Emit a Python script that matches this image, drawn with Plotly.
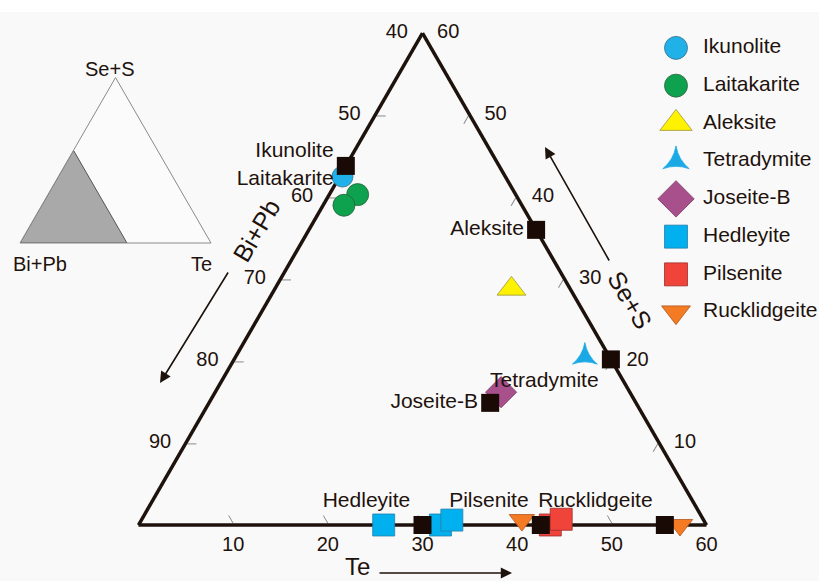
import plotly.graph_objects as go

W, H = 819, 581
FONT = "Liberation Sans, Arial, sans-serif"
INK = "#1e120d"
NBSP = "\u00a0"

# Lower limit of Bi+Pb in the main diagram (a=Se+S, b=Bi+Pb, c=Te)
BI_PB_MIN = 40
# Shaded field in the overview triangle
INSET_BI_PB_MIN = 44

# Tick labels along each edge
bi_pb_ticks = [40, 50, 60, 70, 80, 90]
te_ticks = [10, 20, 30, 40, 50, 60]
se_s_ticks = [10, 20, 30, 40, 50, 60]

# Mineral groups
minerals = ["Ikunolite", "Laitakarite", "Aleksite", "Tetradymite",
            "Joseite-B", "Hedleyite", "Pilsenite", "Rucklidgeite"]
colors = ["#1fb1e8", "#0ea24f", "#fff200", "#1aa9e4",
          "#a8508c", "#00b0ef", "#f0433a", "#f47a24"]
edge_colors = ["#3a6f88", "#2f5e3f", "#9a9340", "#1aa9e4",
               "#7a3a65", "#2a7fa8", "#9a3030", "#b0561c"]
symbols = ["circle", "circle", "triangle-up", "star-triangle-up",
           "diamond", "square", "square", "triangle-down"]
plot_sizes = [21, 22, 25, 18, 24, 22, 22, 22]
legend_sizes = [23, 23, 28, 19, 28, 23, 23, 25]

# Measured analyses (at.%)
ana_mineral = ["Ikunolite", "Laitakarite", "Laitakarite", "Aleksite",
               "Tetradymite", "Joseite-B", "Hedleyite", "Hedleyite",
               "Hedleyite", "Pilsenite", "Pilsenite", "Rucklidgeite",
               "Rucklidgeite"]
ana_se_s = [42.5, 40.3, 39.0, 28.8, 20.5, 16.2, 0.0, 0.0, 0.6, 0.0, 0.7, 0.6, 0.0]
ana_te = [0.3, 3.0, 2.2, 25.0, 36.9, 30.2, 25.9, 31.9, 32.8, 43.5, 44.3, 40.2, 57.2]
ana_bi_pb = [57.2, 56.7, 58.8, 46.2, 42.6, 53.6, 74.1, 68.1, 66.6, 56.5, 55.0, 59.2, 42.8]

# Ideal compositions
ideal_label = ["Ikunolite<br>Laitakarite", "Aleksite", "Tetradymite",
               "Joseite-B", "Hedleyite", "Pilsenite", "Rucklidgeite"]
ideal_se_s = [43.8, 36.0, 20.2, 14.9, 0.0, 0.0, 0.0]
ideal_te = [0.0, 24.0, 39.8, 29.7, 30.0, 42.5, 55.6]
ideal_bi_pb = [56.2, 40.0, 40.0, 55.4, 70.0, 57.5, 44.4]
ideal_textpos = ["middle left", "middle left", "bottom left", "middle left",
                 "top left", "top left", "top left"]


def px(x, y):
    """Pixel position -> paper coordinates."""
    return x / W, 1 - y / H


def tern_domain(left, right, bottom):
    h = (right - left) * 3 ** 0.5 / 2
    return dict(x=[left / W, right / W], y=[1 - bottom / H, 1 - (bottom - h) / H])


fig = go.Figure()

# Measured points, one trace per mineral
for i, m in enumerate(minerals):
    idx = [k for k, name in enumerate(ana_mineral) if name == m]
    fig.add_trace(go.Scatterternary(
        a=[ana_se_s[k] for k in idx],
        b=[ana_bi_pb[k] for k in idx],
        c=[ana_te[k] for k in idx],
        mode="markers", name=m, showlegend=False, cliponaxis=False,
        marker=dict(symbol=symbols[i], size=plot_sizes[i], color=colors[i],
                    line=dict(color=edge_colors[i], width=0.8)),
        subplot="ternary"))

# Ideal compositions as black squares with names
fig.add_trace(go.Scatterternary(
    a=ideal_se_s, b=ideal_bi_pb, c=ideal_te,
    mode="markers+text", text=ideal_label, textposition=ideal_textpos,
    textfont=dict(family=FONT, size=21, color=INK),
    marker=dict(symbol="square", size=18, color="#1a0a06"),
    showlegend=False, cliponaxis=False, subplot="ternary"))

# Overview triangle with the shaded field
fig.add_trace(go.Scatterternary(
    a=[0, 100 - INSET_BI_PB_MIN, 0, 0],
    b=[100, INSET_BI_PB_MIN, INSET_BI_PB_MIN, 100],
    c=[0, 0, 100 - INSET_BI_PB_MIN, 0],
    mode="lines", fill="toself", fillcolor="#a9a9a9",
    line=dict(color="#555555", width=1), showlegend=False,
    hoverinfo="skip", subplot="ternary2"))

# Legend column drawn on a hidden cartesian subplot
for i, m in enumerate(minerals):
    fig.add_trace(go.Scatter(
        x=[0], y=[i], mode="markers", showlegend=False, cliponaxis=False,
        marker=dict(symbol=symbols[i], size=legend_sizes[i], color=colors[i],
                    line=dict(color=edge_colors[i], width=0.8)),
        xaxis="x", yaxis="y"))
fig.add_trace(go.Scatter(
    x=[1] * len(minerals), y=list(range(len(minerals))), mode="text",
    text=minerals, textposition="middle right", cliponaxis=False,
    textfont=dict(family=FONT, size=21, color=INK), showlegend=False,
    xaxis="x", yaxis="y"))

tickfont = dict(family=FONT, size=20, color=INK)
axis_common = dict(tickmode="array", ticks="inside", ticklen=9, tickwidth=1,
                   tickcolor="#8a8a8a", linecolor=INK, linewidth=3.5,
                   showgrid=False, tickfont=tickfont, layer="below traces",
                   title=dict(text=""))

inset_axis = dict(showticklabels=False, ticks="", linecolor="#8a8a8a",
                  linewidth=1, showgrid=False, title=dict(text=""), min=0)

fig.update_layout(
    width=W, height=H, margin=dict(l=0, r=0, t=0, b=0),
    paper_bgcolor="#f9f9f9", plot_bgcolor="rgba(0,0,0,0)",
    font=dict(family=FONT, color=INK),
    ternary=dict(
        domain=tern_domain(138.5, 706.5, 525), sum=100,
        bgcolor="rgba(0,0,0,0)",
        aaxis=dict(axis_common, min=0,
                   tickvals=[100 - v for v in bi_pb_ticks],
                   ticktext=[f"{v}{NBSP * 2}" for v in bi_pb_ticks]),
        baxis=dict(axis_common, min=BI_PB_MIN,
                   tickvals=[100 - v for v in te_ticks],
                   ticktext=[str(v) for v in te_ticks]),
        caxis=dict(axis_common, min=0,
                   tickvals=[100 - BI_PB_MIN - v for v in se_s_ticks],
                   ticktext=[f"{NBSP * 2}{v}" for v in se_s_ticks]),
    ),
    ternary2=dict(
        domain=tern_domain(20, 211, 243), sum=100, bgcolor="#fbfbfb",
        aaxis=inset_axis, baxis=inset_axis, caxis=inset_axis,
    ),
    xaxis=dict(domain=[676 / W, 703 / W], range=[0, 1], visible=False,
               fixedrange=True),
    yaxis=dict(domain=[1 - 331 / H, 1 - 29 / H], range=[7.5, -0.5],
               visible=False, fixedrange=True),
    shapes=[dict(type="rect", xref="paper", yref="paper", x0=0, x1=1,
                 y0=1 - 12 / H, y1=1, fillcolor="white", line=dict(width=0),
                 layer="below")],
)

annotations = []


def label(text, x, y, size, angle=0):
    xp, yp = px(x, y)
    annotations.append(dict(text=text, x=xp, y=yp, xref="paper", yref="paper",
                            showarrow=False, textangle=angle,
                            font=dict(family=FONT, size=size, color=INK),
                            xanchor="center", yanchor="middle"))


def arrow(x_tail, y_tail, x_head, y_head):
    xp, yp = px(x_head, y_head)
    annotations.append(dict(text="", x=xp, y=yp, xref="paper", yref="paper",
                            ax=x_tail - x_head, ay=y_tail - y_head,
                            showarrow=True, arrowhead=2, arrowsize=1.4,
                            arrowwidth=1.6, arrowcolor=INK, standoff=0))


# Main axis titles and direction arrows
label("Bi+Pb", 256, 231, 25, -59.5)
arrow(229, 271, 160, 383)
label("Se+S", 630, 300, 25, 59.5)
arrow(610, 262, 545, 147)
label("Te", 357, 566, 24)
arrow(378, 573, 512, 573)

# Overview triangle corner names
label("Se+S", 109, 69, 20)
label("Bi+Pb", 40, 264, 20)
label("Te", 201, 264, 20)

fig.update_layout(annotations=annotations)
fig.write_html("out.html")
